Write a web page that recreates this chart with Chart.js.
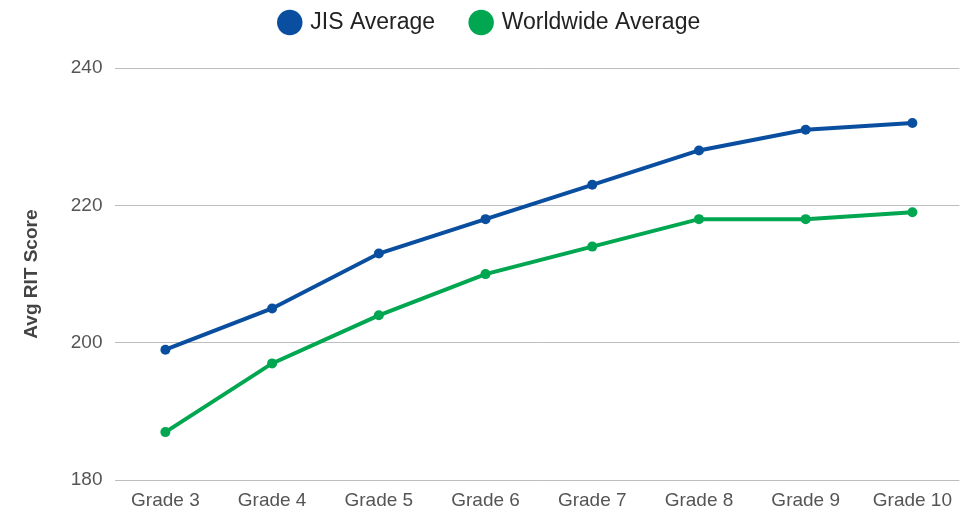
<!DOCTYPE html>
<html>
<head>
<meta charset="utf-8">
<script src="https://cdn.jsdelivr.net/npm/chart.js@4/dist/chart.umd.min.js"></script>
<style>
  html, body { margin: 0; padding: 0; background: #fff; }
  #wrap { width: 961px; height: 515px; }
</style>
</head>
<body>
<div id="wrap"><canvas id="chart"></canvas></div>
<script>
  // ---------- Data ----------
  const grades = ['Grade 3', 'Grade 4', 'Grade 5', 'Grade 6', 'Grade 7', 'Grade 8', 'Grade 9', 'Grade 10'];
  const jisAverage = [199, 205, 213, 218, 223, 228, 231, 232];
  const worldwideAverage = [187, 197, 204, 210, 214, 218, 218, 219];
  const yTicks = [180, 200, 220, 240];

  const BLUE = '#0a4f9f';
  const GREEN = '#00a650';
  const FONT = '"Liberation Sans", Arial, Helvetica, sans-serif';

  function toPoints(values) {
    return values.map((v, i) => ({ x: i, y: v }));
  }

  function lineDataset(label, values, color) {
    return {
      label: label,
      data: toPoints(values),
      borderColor: color,
      backgroundColor: color,
      borderWidth: 4,
      pointRadius: 5,
      pointBorderWidth: 0,
      pointHoverRadius: 5,
      tension: 0,
      fill: false
    };
  }

  // legend sits close to the top, but leaves a gap before the plot
  const legendGap = {
    id: 'legendGap',
    beforeLayout(chart) {
      const lg = chart.legend;
      if (lg && !lg._gapPatched) {
        const fit = lg.fit.bind(lg);
        lg.fit = function () {
          fit();
          this.height += 24;
        };
        lg._gapPatched = true;
      }
    }
  };

  new Chart(document.getElementById('chart'), {
    type: 'line',
    data: {
      datasets: [
        lineDataset('JIS Average', jisAverage, BLUE),
        lineDataset('Worldwide Average', worldwideAverage, GREEN)
      ]
    },
    plugins: [legendGap],
    options: {
      responsive: true,
      maintainAspectRatio: false,
      animation: false,
      layout: {
        autoPadding: false,
        padding: { top: -26, left: 20, right: 0, bottom: -6 }
      },
      plugins: {
        tooltip: { enabled: false },
        legend: {
          position: 'top',
          labels: {
            usePointStyle: true,
            pointStyle: 'circle',
            boxWidth: 18,
            boxHeight: 18,
            padding: 37,
            color: '#222',
            font: { family: FONT, size: 23 }
          }
        }
      },
      scales: {
        x: {
          type: 'linear',
          min: -0.477,
          max: 7.44,
          grid: { display: false, drawTicks: false },
          border: { display: false },
          afterBuildTicks: (axis) => {
            axis.ticks = grades.map((g, i) => ({ value: i }));
          },
          ticks: {
            padding: 9,
            color: '#555',
            font: { family: FONT, size: 19 },
            callback: (v) => grades[v]
          }
        },
        y: {
          min: yTicks[0],
          max: yTicks[yTicks.length - 1],
          afterBuildTicks: (axis) => {
            axis.ticks = yTicks.map((v) => ({ value: v }));
          },
          grid: { color: '#bdbdbd', lineWidth: 1, drawTicks: false },
          border: { display: false },
          ticks: {
            padding: 12,
            color: '#555',
            font: { family: FONT, size: 19 }
          },
          title: {
            display: true,
            text: 'Avg RIT Score',
            color: '#444',
            padding: { top: 0, bottom: 16 },
            font: { family: FONT, size: 19, weight: 'bold' }
          }
        }
      }
    }
  });
</script>
</body>
</html>
